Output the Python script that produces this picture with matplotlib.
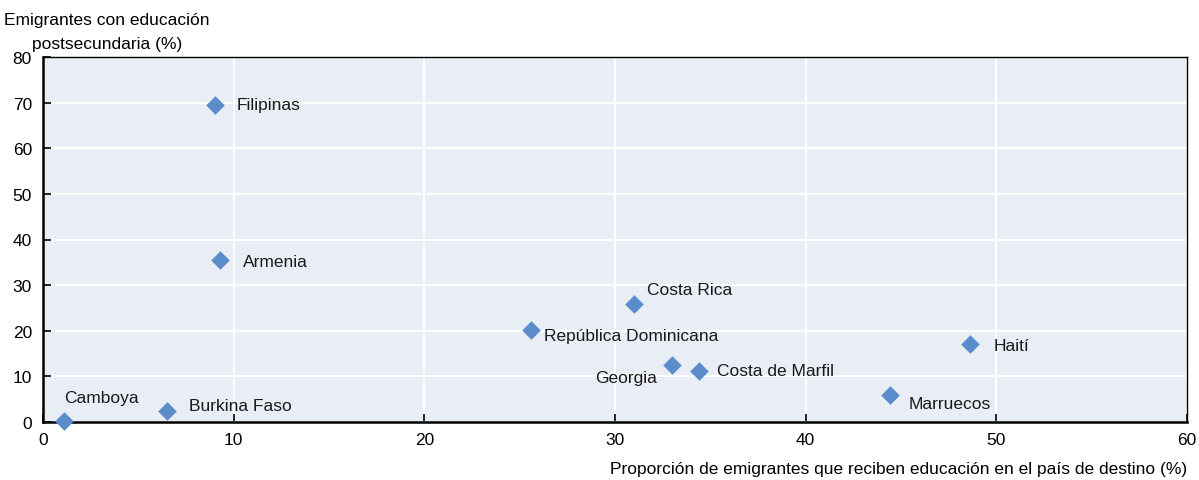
import matplotlib.pyplot as plt
from matplotlib import font_manager

# pick a narrow font if one is around
names = {f.name for f in font_manager.fontManager.ttflist}
if 'Liberation Sans Narrow' in names:
    plt.rcParams['font.family'] = ['Liberation Sans Narrow', 'DejaVu Sans']
else:
    plt.rcParams['font.family'] = ['Liberation Sans', 'DejaVu Sans']

countries = ['Filipinas', 'Armenia', 'Costa Rica', 'República Dominicana', 'Georgia',
             'Costa de Marfil', 'Haití', 'Marruecos', 'Camboya', 'Burkina Faso']
share_dest = [9.0, 9.3, 31.0, 25.6, 33.0, 34.4, 48.6, 44.4, 1.1, 6.5]
share_post = [69.5, 35.5, 25.9, 20.2, 12.5, 11.2, 17.1, 5.9, 0.2, 2.4]

# label offsets in points (dx, dy, ha)
offsets = {
    'Filipinas': (16, 0, 'left'),
    'Armenia': (16, -1, 'left'),
    'Costa Rica': (9, 10, 'left'),
    'República Dominicana': (9, -4, 'left'),
    'Georgia': (-11, -9, 'right'),
    'Costa de Marfil': (13, 0, 'left'),
    'Haití': (17, -1, 'left'),
    'Marruecos': (14, -6, 'left'),
    'Camboya': (0, 17, 'left'),
    'Burkina Faso': (16, 4, 'left'),
}

fs = 12.5

fig = plt.figure(figsize=(11.99, 4.81), dpi=100)
ax = fig.add_axes([43 / 1199, 58 / 481, 1144 / 1199, 365 / 481])
ax.set_facecolor('#E9EDF6')
ax.grid(True, color='white', linewidth=1.5)
ax.set_axisbelow(True)

ax.scatter(share_dest, share_post, marker='D', s=90, color='#5B8DCB', zorder=3,
           linewidths=0, clip_on=False)
for c, x, y in zip(countries, share_dest, share_post):
    dx, dy, ha = offsets[c]
    ax.annotate(c, (x, y), xytext=(dx, dy), textcoords='offset points',
                ha=ha, va='center', fontsize=fs, color='#1a1a1a')

ax.set_xlim(0, 60)
ax.set_ylim(0, 80)
ax.set_xticks(range(0, 61, 10))
ax.set_yticks(range(0, 81, 10))
ax.tick_params(direction='in', length=6, width=1.2, labelsize=fs, colors='black', pad=7)
ax.tick_params(axis='y', pad=8)
for s in ax.spines.values():
    s.set_color('black')
    s.set_linewidth(1.8)
for s in ['top', 'right']:
    ax.spines[s].set_linewidth(1.0)

fig.text(107 / 1199, 1 - 21 / 481, 'Emigrantes con educación',
         ha='center', va='center', fontsize=fs)
fig.text(107 / 1199, 1 - 45 / 481, 'postsecundaria (%)',
         ha='center', va='center', fontsize=fs)
fig.text(1187 / 1199, 1 - 470 / 481,
         'Proporción de emigrantes que reciben educación en el país de destino (%)',
         ha='right', va='center', fontsize=fs)

fig.savefig('out.png', dpi=100)
